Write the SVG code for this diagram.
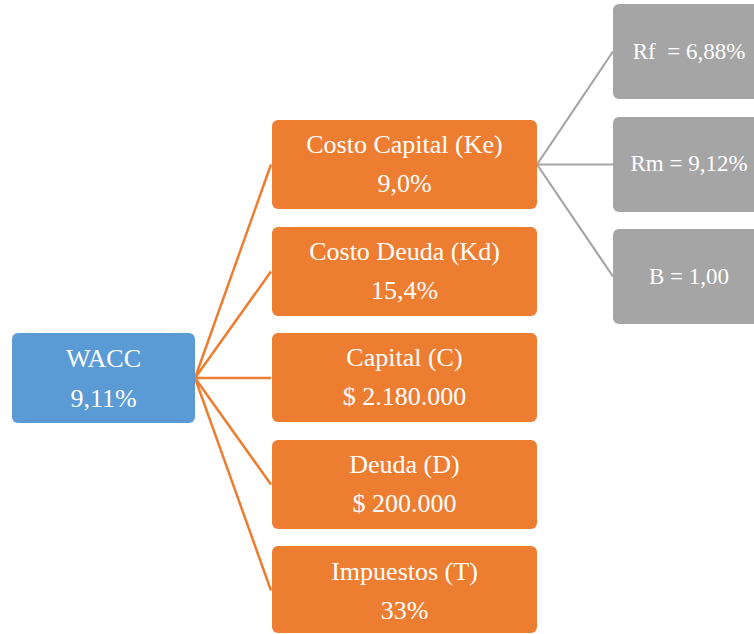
<svg xmlns="http://www.w3.org/2000/svg" width="754" height="634" viewBox="0 0 754 634">
<style>
.t{font-family:'Liberation Serif',serif;fill:#fff;text-anchor:middle}
.big{font-size:26px}
.sm{font-size:23px}
.o{fill:#ED7D31}
.b{fill:#5B9BD5}
.g{fill:#A5A5A5}
.lo{stroke:#ED7D31;stroke-width:2.5;fill:none}
.lg{stroke:#A5A5A5;stroke-width:2.2;fill:none}
</style>
<rect width="754" height="634" fill="#fff"/>
<g id="connectors">
<path class="lo" d="M195 378L271 164.5M195 378L271 271.5M195 378L271 378M195 378L271 484.5M195 378L271 590.5"/>
<path class="lg" d="M537 164.5L613 51.5M537 164.5L613 164.5M537 164.5L613 276.5"/>
</g>
<g id="wacc">
<rect class="b" x="12" y="333" width="183" height="90" rx="6"/>
<text class="t big" x="103.5" y="367">WACC</text>
<text class="t big" x="103.5" y="407">9,11%</text>
</g>
<g id="ke">
<rect class="o" x="272" y="120" width="265" height="89" rx="6"/>
<text class="t big" x="404.5" y="153">Costo Capital (Ke)</text>
<text class="t big" x="404.5" y="192">9,0%</text>
</g>
<g id="kd">
<rect class="o" x="272" y="227" width="265" height="89" rx="6"/>
<text class="t big" x="404.5" y="260">Costo Deuda (Kd)</text>
<text class="t big" x="404.5" y="299">15,4%</text>
</g>
<g id="capital">
<rect class="o" x="272" y="333" width="265" height="89" rx="6"/>
<text class="t big" x="404.5" y="366">Capital (C)</text>
<text class="t big" x="404.5" y="405">$ 2.180.000</text>
</g>
<g id="deuda">
<rect class="o" x="272" y="440" width="265" height="89" rx="6"/>
<text class="t big" x="404.5" y="473">Deuda (D)</text>
<text class="t big" x="404.5" y="512">$ 200.000</text>
</g>
<g id="impuestos">
<rect class="o" x="272" y="546" width="265" height="87" rx="6"/>
<text class="t big" x="404.5" y="580">Impuestos (T)</text>
<text class="t big" x="404.5" y="619">33%</text>
</g>
<g id="rf">
<rect class="g" x="613" y="4" width="152" height="95" rx="6"/>
<text class="t sm" x="689" y="59">Rf&#160; = 6,88%</text>
</g>
<g id="rm">
<rect class="g" x="613" y="117" width="152" height="95" rx="6"/>
<text class="t sm" x="689" y="171">Rm = 9,12%</text>
</g>
<g id="beta">
<rect class="g" x="613" y="229" width="152" height="95" rx="6"/>
<text class="t sm" x="689" y="284">B = 1,00</text>
</g>
</svg>
